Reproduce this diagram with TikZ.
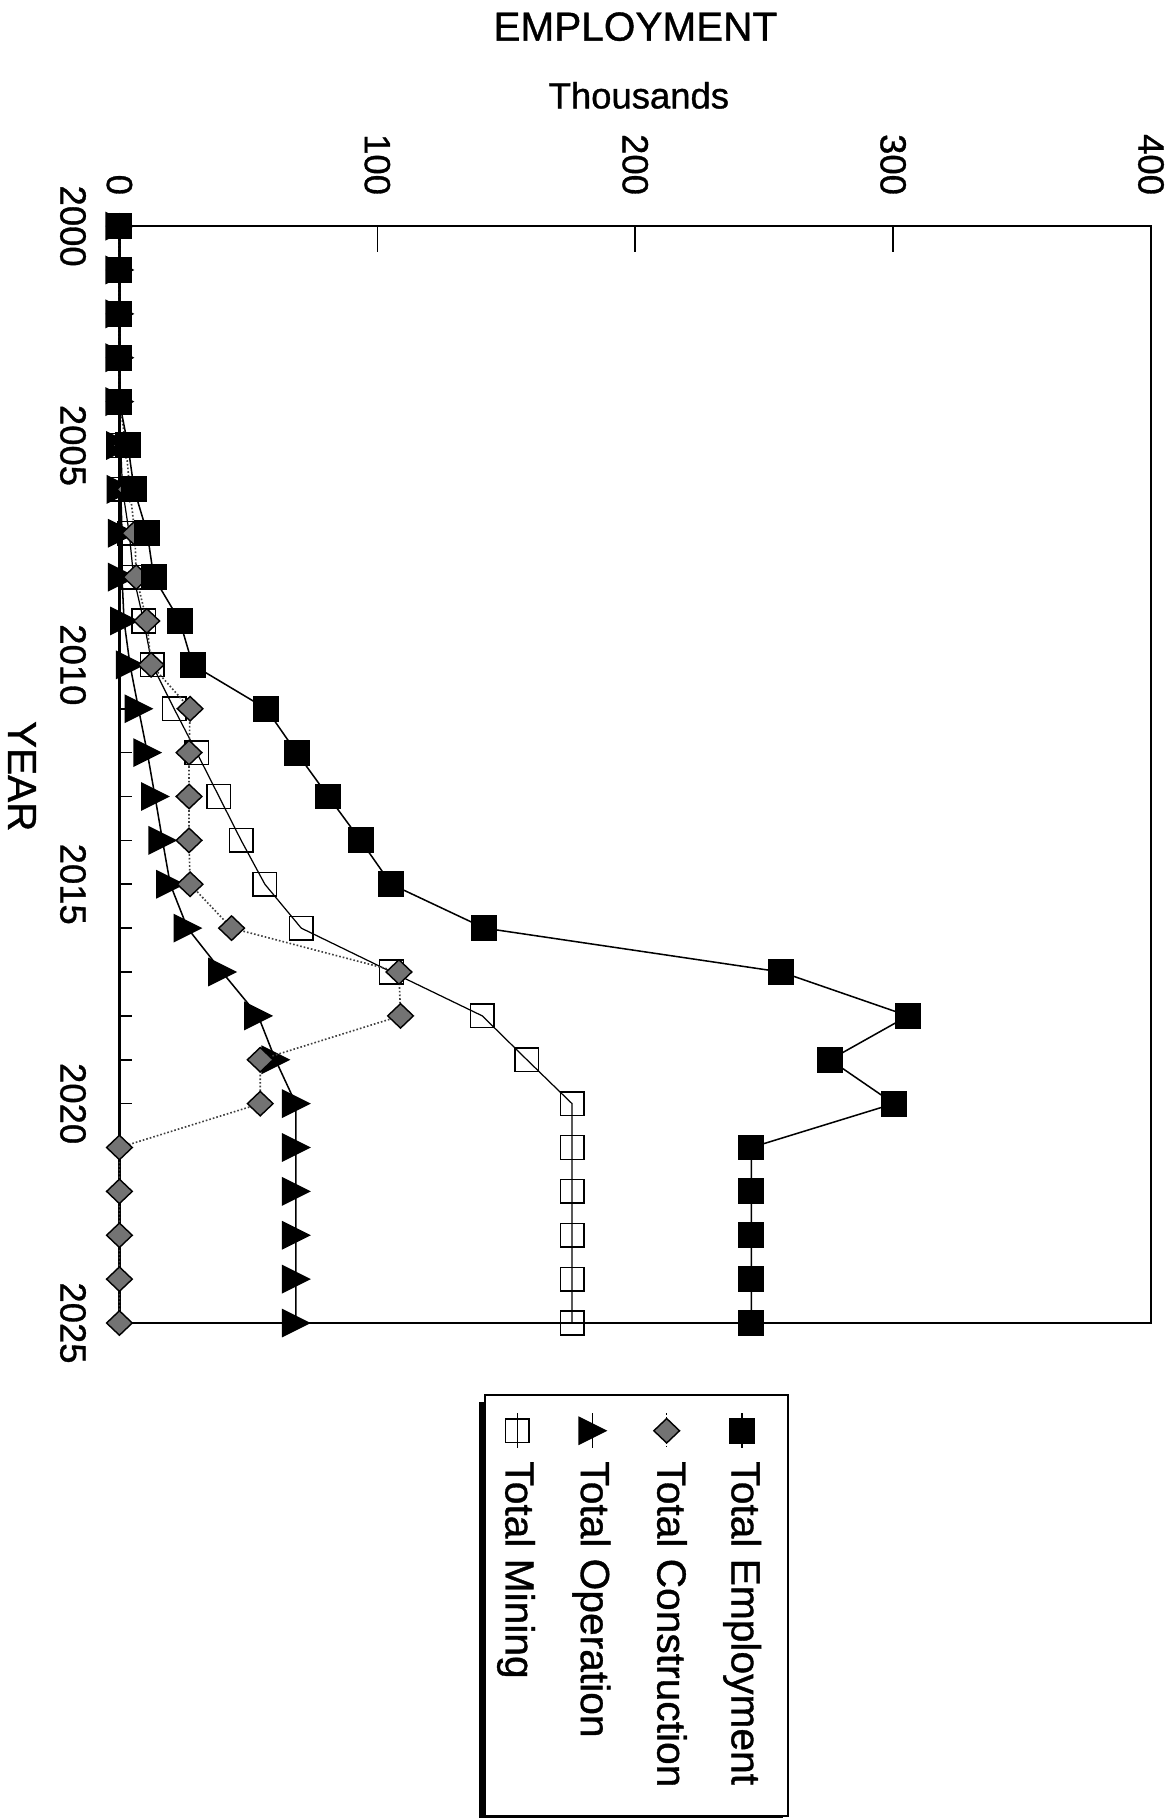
\documentclass[tikz,border=0pt]{standalone}
\usepackage{xcolor}
\usepackage{fontspec}
\setmainfont{Liberation Sans}[FakeBold=0.9]
\usepackage{tikz}
\usetikzlibrary{plotmarks, positioning}

% right pointing triangle and flat diamond marks
\pgfdeclareplotmark{optri}{%
  \pgfpathmoveto{\pgfqpoint{-6.5pt}{6.5pt}}%
  \pgfpathlineto{\pgfqpoint{6.5pt}{0pt}}%
  \pgfpathlineto{\pgfqpoint{-6.5pt}{-6.5pt}}%
  \pgfpathclose
  \pgfusepathqfillstroke}
\pgfdeclareplotmark{condia}{%
  \pgfpathmoveto{\pgfqpoint{0pt}{6pt}}%
  \pgfpathlineto{\pgfqpoint{6.3pt}{0pt}}%
  \pgfpathlineto{\pgfqpoint{0pt}{-6pt}}%
  \pgfpathlineto{\pgfqpoint{-6.3pt}{0pt}}%
  \pgfpathclose
  \pgfusepathqfillstroke}

\tikzset{
  axisline/.style={line width=1.3pt},
  ticklabel/.style={rotate=-90, inner sep=0pt, font=\fontsize{17.9}{20}\selectfont},
  biglabel/.style={inner sep=0pt, font=\fontsize{19.9}{22}\selectfont},
  legtext/.style={rotate=-90, inner sep=0pt, anchor=base west, font=\fontsize{20}{22}\selectfont},
  empline/.style={black, line width=0.75pt, mark=square*, mark size=6pt, mark options={solid, fill=black}},
  conline/.style={black!75, densely dotted, line width=0.8pt, mark=condia, mark options={solid, draw=black, fill=black!55, line width=0.7pt}},
  opline/.style={black, line width=0.75pt, mark=optri, mark options={solid, fill=black}},
  minline/.style={black, line width=0.6pt, mark=square, mark size=5.8pt, mark options={solid, line width=0.7pt}},
}

\begin{document}
\begin{tikzpicture}[x=0.02cm, y=-0.02cm]
\useasboundingbox (0,0) rectangle (1011,1568);

% titles
\node[biglabel] (title) at (548,23) {EMPLOYMENT};
\node[inner sep=0pt, anchor=base, font=\fontsize{17.9}{20}\selectfont] (unit) at (551,93.5) {Thousands};
\node[biglabel, rotate=-90] (yearlab) at (19,669.5) {YEAR};

% plot area: value across, year downwards
\begin{scope}[shift={(103,195)}, x=0.0445cm, y=-0.757cm]
  \draw[axisline] (0,0) rectangle (400,25);
  \foreach \t in {1,...,24}
    \draw[line width=0.8pt] (0,\t) -- (5,\t);
  \foreach \v in {100,200,300}
    \draw[line width=0.8pt] (\v,0) -- (\v,0.58);
  \foreach \v in {0,100,200,300,400}
    \node[ticklabel, anchor=east] (val\v) at (\v,-0.7) {\v};
  \foreach \t/\yr in {0/2000,5/2005,10/2010,15/2015,20/2020,25/2025}
    \node[ticklabel] (yr\yr) at (-18,\t) {\yr};

  % Total Mining
  \draw[minline] plot coordinates {(0,0) (0,1) (0,2) (0,3) (0,4) (0.5,5) (1.2,6) (3.8,7) (5.5,8)
    (9.4,9) (12.7,10) (21.2,11) (30,12) (38.6,13) (47.2,14) (56.4,15) (70.5,16) (105.5,17)
    (140.7,18) (158,19) (175.5,20) (175.5,21) (175.5,22) (175.5,23) (175.5,24) (175.5,25)};
  % Total Operation
  \draw[opline] plot coordinates {(0,0) (0,1) (0,2) (0,3) (0,4) (0.3,5) (0.5,6) (1,7) (1,8)
    (1.8,9) (4.1,10) (7.4,11) (10.8,12) (13.8,13) (16.7,14) (19.7,15) (26.4,16) (39.8,17)
    (53.8,18) (60.5,19) (68.4,20) (68.4,21) (68.4,22) (68.4,23) (68.4,24) (68.4,25)};
  % Total Construction
  \draw[conline] plot coordinates {(0,0) (0,1) (0,2) (0,3) (0,4) (2.5,5) (4,6) (6,7) (6.5,8)
    (10.6,9) (12.3,10) (27.4,11) (27,12) (27,13) (27,14) (27.4,15) (43.5,16) (108.4,17)
    (109,18) (54.6,19) (54.6,20) (0,21) (0,22) (0,23) (0,24) (0,25)};
  % Total Employment
  \draw[empline] plot coordinates {(0,0) (0,1) (0,2) (0,3) (0,4) (3.3,5) (5.7,6) (10.8,7) (13.3,8)
    (23.4,9) (28.4,10) (56.9,11) (68.7,12) (81,13) (93.5,14) (105.4,15) (141.5,16) (256.6,17)
    (305.8,18) (275.5,19) (300.3,20) (245,21) (245,22) (245,23) (245,24) (245,25)};
\end{scope}

% legend
\fill[black] (413,1209) rectangle (675,1580);
\draw[fill=white, line width=0.9pt] (418,1203) rectangle (679.5,1566);
\draw[black, line width=0.6pt] (640,1219) -- (640,1249);
\draw[empline] plot coordinates {(640,1234)};
\draw[black, densely dotted, line width=0.6pt] (575,1219) -- (575,1249);
\draw[conline] plot coordinates {(575,1234)};
\draw[black, line width=0.6pt] (511,1219) -- (511,1249);
\draw[opline] plot coordinates {(511,1234)};
\draw[black, line width=0.6pt] (446,1219) -- (446,1249);
\draw[minline] plot coordinates {(446,1234)};
\node[legtext] (lemp) at (631,1260) {Total Employment};
\node[legtext] (lcon) at (567,1260) {Total Construction};
\node[legtext] (lop) at (501,1260) {Total Operation};
\node[legtext] (lmin) at (436,1260) {Total Mining};
\end{tikzpicture}
\end{document}
